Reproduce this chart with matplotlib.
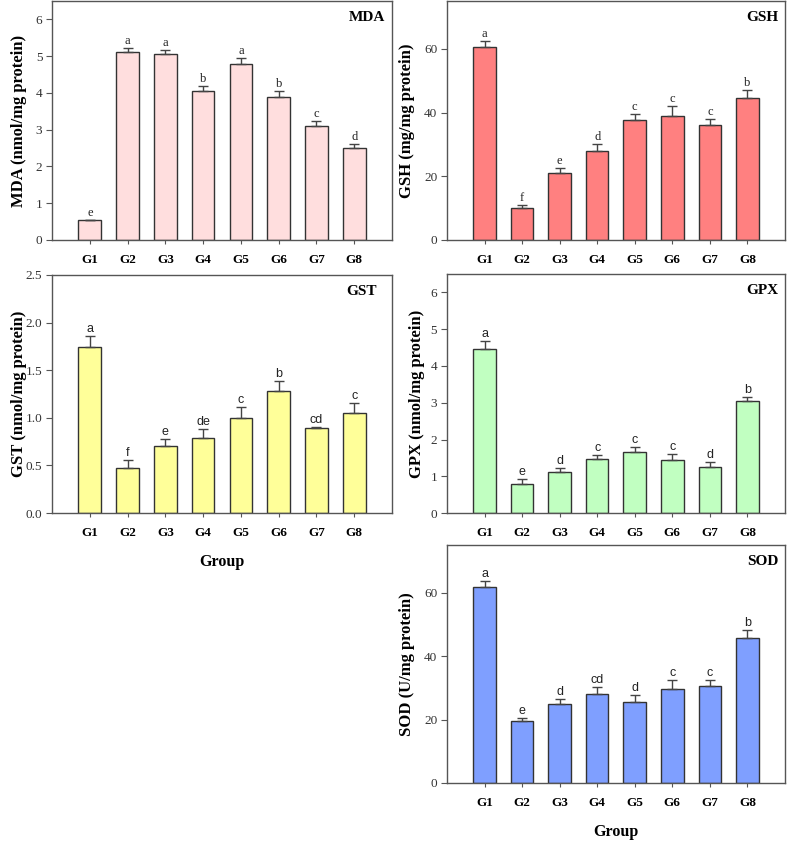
import matplotlib
matplotlib.use("Agg")
import matplotlib.pyplot as plt
import numpy as np

plt.rcParams['font.family'] = 'Liberation Serif'

groups = ['G1', 'G2', 'G3', 'G4', 'G5', 'G6', 'G7', 'G8']

mda = [0.53, 5.10, 5.05, 4.05, 4.80, 3.90, 3.10, 2.50]
mda_err = [0.01, 0.12, 0.11, 0.14, 0.15, 0.16, 0.13, 0.11]
mda_sig = ['e', 'a', 'a', 'b', 'a', 'b', 'c', 'd']

gsh = [60.5, 9.9, 21.0, 28.0, 37.5, 39.0, 36.0, 44.5]
gsh_err = [2.0, 1.0, 1.6, 2.1, 2.0, 3.0, 1.9, 2.5]
gsh_sig = ['a', 'f', 'e', 'd', 'c', 'c', 'c', 'b']

gst = [1.74, 0.47, 0.70, 0.79, 1.00, 1.28, 0.89, 1.05]
gst_err = [0.12, 0.09, 0.08, 0.09, 0.11, 0.11, 0.01, 0.11]
gst_sig = ['a', 'f', 'e', 'de', 'c', 'b', 'cd', 'c']

gpx = [4.46, 0.79, 1.11, 1.47, 1.66, 1.45, 1.25, 3.05]
gpx_err = [0.23, 0.13, 0.12, 0.12, 0.14, 0.16, 0.14, 0.11]
gpx_sig = ['a', 'e', 'd', 'c', 'c', 'c', 'd', 'b']

sod = [61.6, 19.5, 25.0, 28.0, 25.6, 29.5, 30.6, 45.6]
sod_err = [2.0, 0.9, 1.5, 2.2, 2.1, 3.0, 1.9, 2.7]
sod_sig = ['a', 'e', 'd', 'cd', 'd', 'c', 'c', 'b']

fig = plt.figure(figsize=(7.89, 8.42), dpi=100)

# name, values, errors, letters, colour, ylabel, ylim, yticks, ytick labels,
# axes rect, letter font, xlabel?, ylabel offset (px left of axis), title x
panels = [
    ('MDA', mda, mda_err, mda_sig, '#FFDEDE', 'MDA (nmol/mg protein)', 6.5,
     [0, 1, 2, 3, 4, 5, 6], ['0', '1', '2', '3', '4', '5', '6'],
     [0.0659, 0.7150, 0.4309, 0.2838], 'Liberation Serif', False, 33, 0.98),
    ('GSH', gsh, gsh_err, gsh_sig, '#FF8080', 'GSH (mg/mg protein)', 75,
     [0, 20, 40, 60], ['0', '20', '40', '60'],
     [0.5665, 0.7150, 0.4284, 0.2838], 'Liberation Serif', False, 40, 0.98),
    ('GST', gst, gst_err, gst_sig, '#FFFF99', 'GST (nmol/mg protein)', 2.5,
     [0, 0.5, 1.0, 1.5, 2.0, 2.5], ['0.0', '0.5', '1.0', '1.5', '2.0', '2.5'],
     [0.0659, 0.3907, 0.4309, 0.2827], 'Liberation Sans', True, 33, 0.955),
    ('GPX', gpx, gpx_err, gpx_sig, '#C1FFC1', 'GPX (nmol/mg protein)', 6.5,
     [0, 1, 2, 3, 4, 5, 6], ['0', '1', '2', '3', '4', '5', '6'],
     [0.5665, 0.3907, 0.4284, 0.2838], 'Liberation Sans', False, 30, 0.98),
    ('SOD', sod, sod_err, sod_sig, '#7F9FFF', 'SOD (U/mg protein)', 75,
     [0, 20, 40, 60], ['0', '20', '40', '60'],
     [0.5665, 0.0701, 0.4284, 0.2827], 'Liberation Sans', True, 40, 0.98),
]

x = np.arange(1, len(groups) + 1)
fig_w = 789

for (name, vals, errs, sig, color, ylab, ytop, yt, ytl, rect, sigfont,
     show_xlab, yoff, tx) in panels:
    ax = fig.add_axes(rect)
    ax.bar(x, vals, width=0.6, color=color, edgecolor='#333333', linewidth=1.0, zorder=2)
    ax.errorbar(x, vals, yerr=[np.zeros(len(vals)), errs], fmt='none',
                ecolor='#444444', elinewidth=1.0, capsize=3.8, capthick=1.0, zorder=3)
    for xi, v, e, s in zip(x, vals, errs, sig):
        ax.text(xi, v + e + ytop * 0.004, s, ha='center', va='bottom',
                fontsize=9, family=sigfont, color='#222222')
    ax.set_xlim(0, 9)
    ax.set_ylim(0, ytop)
    ax.set_xticks(x)
    ax.set_xticklabels(groups, fontsize=9.5, fontweight='bold')
    ax.set_yticks(yt)
    ax.set_yticklabels(ytl, fontsize=9.5, color='#333333')
    ax.tick_params(axis='y', direction='out', length=4, width=0.8, color='#555555', pad=3)
    ax.tick_params(axis='x', direction='out', length=3, width=0.8, color='#555555', pad=7)
    for sp in ax.spines.values():
        sp.set_color('#555555')
        sp.set_linewidth(1.0)
    ax.set_ylabel(ylab, fontsize=12, fontweight='bold', va='center')
    ax.yaxis.set_label_coords(-yoff / (rect[2] * fig_w), 0.5)
    ax.text(tx, 0.93, name, transform=ax.transAxes, ha='right', va='center',
            fontsize=11, fontweight='bold')
    if show_xlab:
        ax.set_xlabel('Group', fontsize=11.5, fontweight='bold', labelpad=11)

fig.savefig('out.png', dpi=100)
